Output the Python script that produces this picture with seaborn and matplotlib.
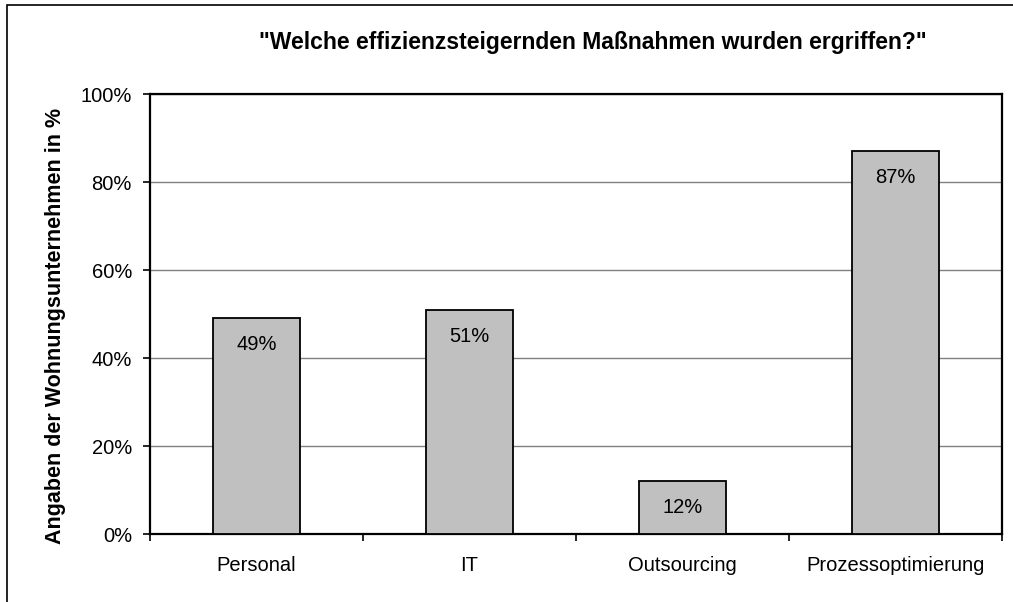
import matplotlib
matplotlib.use("Agg")
import matplotlib.pyplot as plt
import seaborn as sns
import pandas as pd
from matplotlib.patches import Rectangle
from matplotlib.ticker import FixedLocator

categories = ["Personal", "IT", "Outsourcing", "Prozessoptimierung"]
values = [49, 51, 12, 87]
y_ticks = [0, 20, 40, 60, 80, 100]
title = '"Welche effizienzsteigernden Maßnahmen wurden ergriffen?"'
y_label = "Angaben der Wohnungsunternehmen in %"

sns.set_theme(style="white")
plt.rcParams["font.family"] = ["Liberation Sans", "DejaVu Sans"]
plt.rcParams["text.color"] = "black"
plt.rcParams["axes.labelcolor"] = "black"
plt.rcParams["xtick.color"] = "black"
plt.rcParams["ytick.color"] = "black"

df = pd.DataFrame({"Maßnahme": categories, "Anteil": values})

fig = plt.figure(figsize=(10.13, 6.02), dpi=100)
ax = fig.add_axes([150 / 1013, 1 - 534 / 602, 852 / 1013, 440 / 602])

sns.barplot(data=df, x="Maßnahme", y="Anteil", ax=ax, color="#C0C0C0",
            saturation=1, width=0.41, edgecolor="black", linewidth=1.3, zorder=3)

ax.set_ylim(0, 100)
ax.set_xlim(-0.5, len(categories) - 0.5)
ax.set_yticks(y_ticks)
ax.set_yticklabels([f"{t}%" for t in y_ticks], fontsize=14.5)
ax.yaxis.grid(True, color="#808080", linewidth=1, zorder=0)
ax.xaxis.grid(False)

# category labels centred, tick marks on the category boundaries
ax.tick_params(axis="x", which="major", length=0, pad=16, labelsize=14.5)
ax.xaxis.set_minor_locator(FixedLocator([i - 0.5 for i in range(len(categories) + 1)]))
ax.tick_params(axis="x", which="minor", direction="out", length=5, width=1.2,
               color="black", bottom=True)
ax.tick_params(axis="y", direction="out", length=5, width=1.2, color="black",
               left=True, pad=8)
ax.set_xlabel("")
ax.set_ylabel("")

for sp in ax.spines.values():
    sp.set_visible(True)
    sp.set_color("black")
    sp.set_linewidth(1.6)

for i, v in enumerate(values):
    ax.text(i, v - 6, f"{v}%", ha="center", va="center", fontsize=14.5,
            color="black", zorder=4)

fig.text(55 / 1013, 1 - 326 / 602, y_label, rotation=90, ha="center",
         va="center", fontsize=15.5, fontweight="bold")
fig.text(593 / 1013, 1 - 43 / 602, title, ha="center", va="center",
         fontsize=16.5, fontweight="bold")

# outer frame of the chart area
fig.patches.append(Rectangle((7 / 1013, -0.1), 1.2, 1 - 5 / 602 + 0.1,
                             transform=fig.transFigure, fill=False,
                             edgecolor="black", linewidth=1.2))

fig.savefig("out.png", dpi=100)
